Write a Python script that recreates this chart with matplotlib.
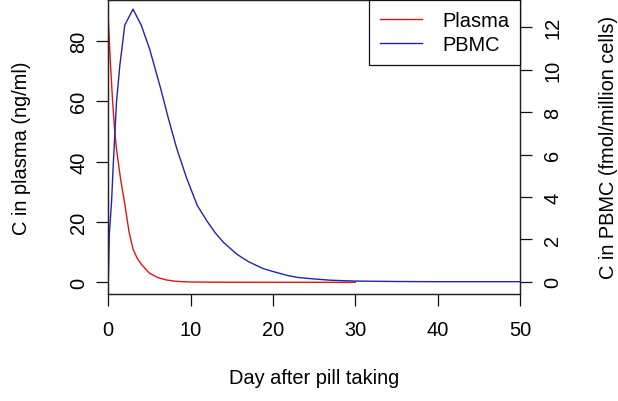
import matplotlib
matplotlib.use("Agg")
import matplotlib.pyplot as plt

plt.rcParams['font.family'] = ['Liberation Sans', 'DejaVu Sans']

# Data
days_plasma = [0, 0.25, 0.5, 0.75, 1, 1.5, 2, 2.5, 3, 3.5, 4, 5, 6, 7, 8, 9, 10, 12, 15, 20, 25, 30]
plasma = [87, 73, 61, 51, 44, 34, 26, 17, 11, 8, 6, 3.0, 1.6, 0.8, 0.4, 0.2, 0.1, 0.05, 0.02, 0, 0, 0]

days_pbmc = [0, 0.12, 0.4, 0.6, 1.0, 1.4, 2.0, 3.0, 4.0, 5.0, 6.3, 7.3, 8.3, 9.5, 10.8,
             12.0, 13.0, 14.0, 15.6, 17.0, 18.8, 20.0, 21.7, 23.0, 25, 27, 30, 35, 40, 45, 50]
pbmc = [0, 2.2, 3.8, 5.5, 8.5, 10.2, 12.1, 12.86, 12.1, 11.0, 9.2, 7.7, 6.3, 4.9, 3.6,
        2.85, 2.3, 1.85, 1.3, 0.95, 0.62, 0.48, 0.3, 0.2, 0.13, 0.07, 0.03, 0.01, 0, 0, 0]

x_ticks = [0, 10, 20, 30, 40, 50]
left_ticks = [0, 20, 40, 60, 80]
right_ticks = [0, 2, 4, 6, 8, 10, 12]

FS = 14.4
RED = '#dd1515'
BLUE = '#2222b0'

fig = plt.figure(figsize=(6.18, 4.02), dpi=100)
ax = fig.add_axes([108.3 / 618, 1 - 295 / 402, (520 - 108.3) / 618, (295 - 1) / 402])
ax2 = ax.twinx()

l1, = ax.plot(days_plasma, plasma, color=RED, lw=1.0, label='Plasma')
l2, = ax2.plot(days_pbmc, pbmc, color=BLUE, lw=1.0, label='PBMC')

ax.set_xlim(0, 50)
ax.set_ylim(-3.87, 93.48)
ax2.set_ylim(-0.58, 13.29)

ax.set_xticks(x_ticks)
ax.set_yticks(left_ticks)
ax2.set_yticks(right_ticks)

for a in (ax, ax2):
    for s in a.spines.values():
        s.set_color('#222222')
        s.set_linewidth(0.9)

ax.tick_params(axis='both', direction='out', length=8.6, width=0.9, labelsize=FS, pad=6, color='#111111')
ax2.tick_params(axis='y', direction='out', length=8.6, width=0.9, labelsize=FS, pad=8, color='#111111')
ax.tick_params(axis='x', pad=10)

for lab in ax.get_yticklabels():
    lab.set_rotation(90)
    lab.set_va('center')
for lab in ax2.get_yticklabels():
    lab.set_rotation(90)
    lab.set_va('center')

fig.text(22 / 618, 1 - 148 / 402, 'C in plasma (ng/ml)', rotation=90, ha='center', va='center', fontsize=FS)
fig.text(608 / 618, 1 - 147 / 402, 'C in PBMC (fmol/million cells)', rotation=90, ha='center', va='center', fontsize=FS)
fig.text(314 / 618, 1 - 379 / 402, 'Day after pill taking', ha='center', va='center', fontsize=FS)

leg = ax2.legend(handles=[l1, l2], loc='upper right', borderaxespad=0, fontsize=FS,
                 frameon=True, fancybox=False, framealpha=1, edgecolor='#111111',
                 handlelength=2.1, handletextpad=1.0, borderpad=0.55, labelspacing=0.23)
leg.get_frame().set_linewidth(0.9)

fig.savefig('out.png', dpi=100)
